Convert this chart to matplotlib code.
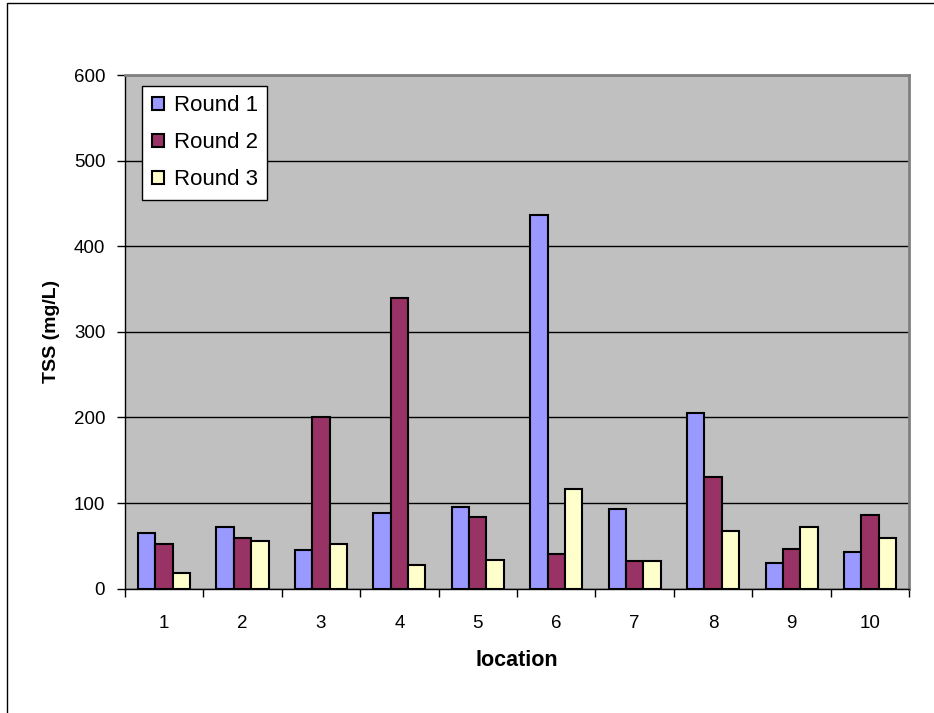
import numpy as np
import matplotlib.pyplot as plt
from matplotlib.patches import Rectangle
from matplotlib.ticker import FixedLocator

plt.rcParams['font.family'] = ['Liberation Sans', 'DejaVu Sans']

locations = ['1', '2', '3', '4', '5', '6', '7', '8', '9', '10']
round1 = [65, 72, 45, 88, 95, 436, 93, 205, 30, 43]
round2 = [52, 59, 200, 339, 84, 41, 32, 130, 46, 86]
round3 = [18, 56, 52, 28, 34, 117, 32, 68, 72, 59]

series = [('Round 1', round1, '#9999FF'),
          ('Round 2', round2, '#993366'),
          ('Round 3', round3, '#FFFFCC')]

fig = plt.figure(figsize=(9.34, 7.13), dpi=100)
ax = fig.add_axes([0.1335, 0.1743, 0.8401, 0.7205])
ax.set_facecolor('#C0C0C0')

# outer chart border
fig.patches.append(Rectangle((7 / 934, -0.05), 1.1, 1 - 3 / 713 + 0.05,
                             transform=fig.transFigure, fill=False,
                             edgecolor='black', linewidth=1.0))

x = np.arange(len(locations))
w = 0.222
for i, (name, vals, col) in enumerate(series):
    ax.bar(x + (i - 1) * w, vals, width=w, color=col, edgecolor='black',
           linewidth=1.5, label=name, zorder=3)

ax.set_xlim(-0.5, len(locations) - 0.5)
ax.set_ylim(0, 600)
ax.set_yticks(range(0, 601, 100))
ax.yaxis.grid(True, color='black', linewidth=1.0, zorder=1)
ax.set_axisbelow(True)

ax.set_xticks(x)
ax.set_xticklabels(locations)
ax.tick_params(axis='x', which='major', length=0, pad=19, labelsize=13.5)
ax.xaxis.set_minor_locator(FixedLocator(np.arange(-0.5, len(locations), 1.0)))
ax.tick_params(axis='x', which='minor', length=6, width=1, direction='out')
ax.tick_params(axis='y', length=6, width=1, pad=8, labelsize=13.5)

for s in ['top', 'right']:
    ax.spines[s].set_color('#808080')
    ax.spines[s].set_linewidth(2)
for s in ['left', 'bottom']:
    ax.spines[s].set_color('black')
    ax.spines[s].set_linewidth(1)

ax.set_xlabel('location', fontsize=15.5, fontweight='bold', labelpad=13)
ax.set_ylabel('TSS (mg/L)', fontsize=14, fontweight='bold', labelpad=10)

leg = ax.legend(loc='upper left', bbox_to_anchor=(0.0224, 0.9786),
                borderaxespad=0, fontsize=16, fancybox=False,
                framealpha=1, edgecolor='black', handlelength=0.55,
                handleheight=0.55, handletextpad=0.45, labelspacing=0.72,
                borderpad=0.42)
leg.get_frame().set_linewidth(1.0)

fig.savefig('out.png', dpi=100)
